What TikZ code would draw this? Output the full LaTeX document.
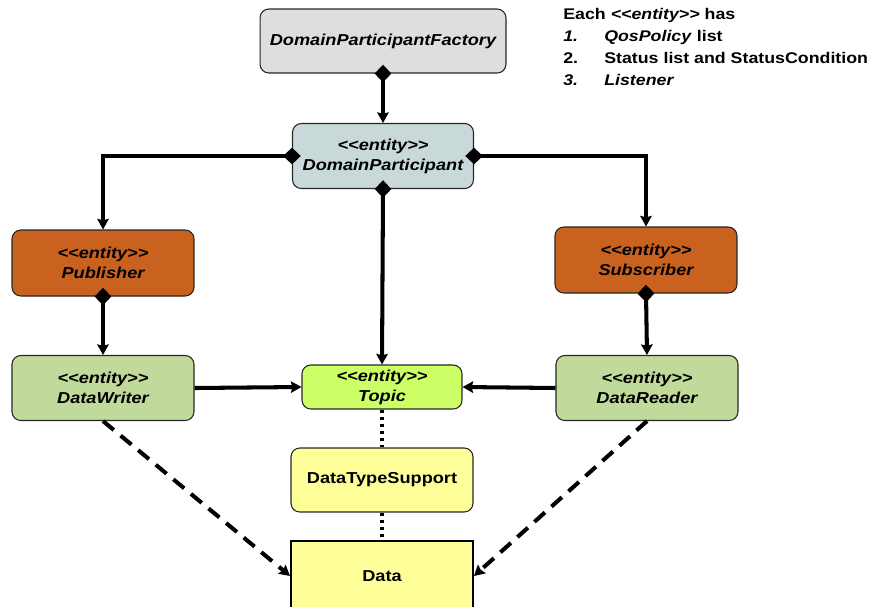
\documentclass[tikz,border=0pt]{standalone}
\usepackage{fontspec}
\newfontfamily\arialx{Liberation Sans}[FakeStretch=1.15]
\usetikzlibrary{arrows.meta}

\definecolor{facgray}{HTML}{DEDEDE}
\definecolor{partblue}{HTML}{C9D9DA}
\definecolor{pubbrown}{HTML}{C9621F}
\definecolor{rwgreen}{HTML}{C1D99A}
\definecolor{topicgreen}{HTML}{CCFF66}
\definecolor{typeyellow}{HTML}{FFFF99}

\newcommand{\ent}{<\kern0pt<entity>\kern0pt>}

\tikzset{
  box/.style={draw=black!85, line width=0.6pt, rounded corners=5pt, align=center,
    inner sep=2pt, font=\arialx\bfseries\itshape\fontsize{9}{11.4}\selectfont},
  owns/.style={line width=2.3pt, shorten <=-5pt,
    {Diamond[length=10pt,width=9.5pt]}-{Stealth[length=6pt,width=6.5pt,inset=0.8pt]}},
  uses/.style={line width=2.3pt, -{Stealth[length=6pt,width=6.5pt,inset=0.8pt]}},
  dep/.style={line width=2.2pt, dash pattern=on 2pt off 2pt},
  flow/.style={line width=2.3pt, dash pattern=on 8pt off 5pt,
    -{Stealth[length=6pt,width=6.5pt,inset=0.8pt]}},
}

\begin{document}
\begin{tikzpicture}[x=0.02cm,y=-0.02cm]
  \useasboundingbox (0,0) rectangle (875,606);

  % entities
  \node[box, fill=facgray, minimum width=4.92cm, minimum height=1.28cm] (fac) at (383,41) {DomainParticipantFactory};
  \node[box, fill=partblue, minimum width=3.62cm, minimum height=1.3cm] (dp) at (383,156) {\ent\\DomainParticipant};
  \node[box, fill=pubbrown, minimum width=3.64cm, minimum height=1.32cm] (pub) at (103,263) {\ent\\Publisher};
  \node[box, fill=pubbrown, minimum width=3.64cm, minimum height=1.32cm] (sub) at (646,260) {\ent\\Subscriber};
  \node[box, fill=rwgreen, minimum width=3.64cm, minimum height=1.3cm] (wr) at (103,388) {\ent\\DataWriter};
  \node[box, fill=topicgreen, minimum width=3.2cm, minimum height=0.88cm] (topic) at (382,387) {\ent\\Topic};
  \node[box, fill=rwgreen, minimum width=3.64cm, minimum height=1.3cm] (rd) at (647,388) {\ent\\DataReader};
  \node[box, fill=typeyellow, minimum width=3.64cm, minimum height=1.28cm, font=\arialx\bfseries\fontsize{9}{11.4}\selectfont] (dts) at (382,480) {DataTypeSupport};
  \node[box, rounded corners=0pt, draw=black, line width=1.1pt, fill=typeyellow, minimum width=3.64cm, minimum height=1.4cm, font=\arialx\bfseries\fontsize{9}{11.4}\selectfont] (data) at (382,576) {Data};

  % note
  \node[anchor=north west, inner sep=0pt, align=left, font=\arialx\bfseries\fontsize{8.8}{12.5}\selectfont] (note) at (563,8)
    {Each \textit{\ent} has\\
     \makebox[23.3pt][l]{\textit{1.}}\textit{QosPolicy} list\\
     \makebox[23.3pt][l]{2.}Status list and StatusCondition\\
     \makebox[23.3pt][l]{\textit{3.}}\textit{Listener}};

  % connectors
  \draw[owns] (fac.south) -- (dp.north);
  \draw[owns] (dp.west) -| (pub.north);
  \draw[owns] (dp.east) -| (sub.north);
  \draw[owns] (dp.south) -- (topic.north);
  \draw[owns] (pub.south) -- (wr.north);
  \draw[owns] (sub.south) -- (rd.north);
  \draw[uses] (wr.east) -- (topic.west);
  \draw[uses] (rd.west) -- (topic.east);
  \draw[dep] (topic.south) -- (dts.north);
  \draw[dep] (dts.south) -- (data.north);
  \draw[flow] (wr.south) -- (data.west);
  \draw[flow] (rd.south) -- (data.east);
\end{tikzpicture}
\end{document}
